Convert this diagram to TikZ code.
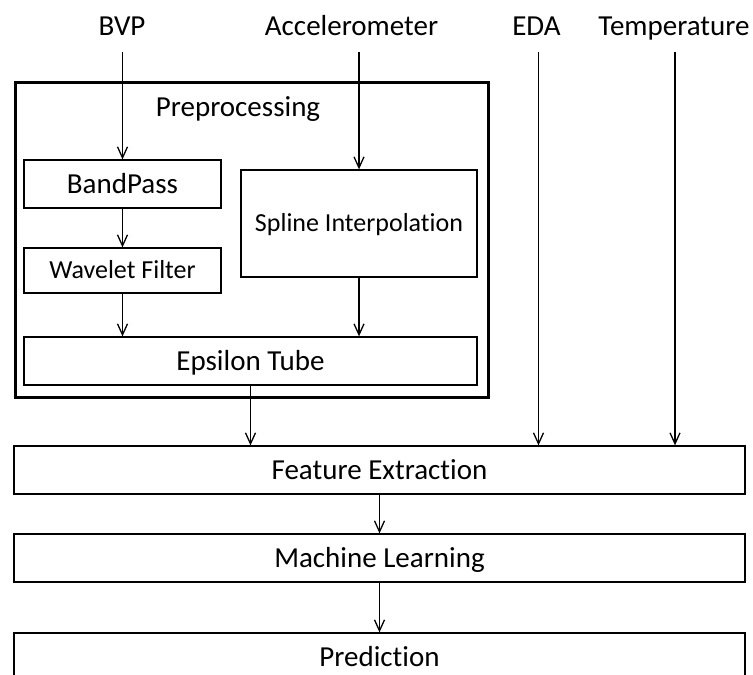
\documentclass[tikz,border=0pt]{standalone}
\usepackage{fontspec}
\setmainfont{Carlito}[Ligatures=NoCommon]
\usetikzlibrary{arrows.meta}
\begin{document}
\begin{tikzpicture}[x=1pt,y=-1pt,
  lbl/.style={font=\fontsize{29}{33}\selectfont, text height=18.7pt, text depth=0pt, inner sep=0pt},
  box/.style={draw, line width=1.3pt, inner sep=0pt, font=\fontsize{29}{33}\selectfont, text height=18.7pt, text depth=0pt},
  smallbox/.style={box, font=\fontsize{26}{30}\selectfont, text height=16.7pt},
  arr/.style={line width=1.3pt, -{Straight Barb[length=11pt,width=10pt,line width=1.3pt]}},
]
\useasboundingbox (0,0) rectangle (753,675);
\clip (0,0) rectangle (753,675);

% inputs
\node[lbl] (bvp) at (122,26.5) {BVP};
\node[lbl] (acc) at (351.5,26.5) {Accelerometer};
\node[lbl] (eda) at (536.5,26.5) {EDA};
\node[lbl] (temp) at (674,26.5) {Temperature};
\coordinate (top) at (0,52);

% preprocessing frame
\node[draw, line width=3pt, inner sep=0pt, minimum width=473.5pt, minimum height=315pt, anchor=north west] (prep) at (13.5,81) {};
\node[lbl] (preplbl) at (238,107.5) {Preprocessing};

\node[box, minimum width=197pt, minimum height=48pt] (band) at (122.5,184) {BandPass};
\node[smallbox, minimum width=197pt, minimum height=45pt] (wave) at (122.5,270.5) {Wavelet Filter};
\node[smallbox, minimum width=236pt, minimum height=107pt] (spline) at (359,223.5) {Spline Interpolation};
\node[box, minimum width=453pt, minimum height=48pt] (eps) at (250.5,361) {Epsilon Tube};

\node[box, minimum width=731pt, minimum height=48pt] (feat) at (379.5,470) {Feature Extraction};
\node[box, minimum width=731pt, minimum height=48pt] (ml) at (379.5,558) {Machine Learning};
\node[box, minimum width=731pt, minimum height=48pt] (pred) at (379.5,657) {Prediction};

% connectors
\draw[arr] (band.north |- top) -- (band.north);
\draw[arr] (spline.north |- top) -- (spline.north);
\draw[arr] (band.south) -- (wave.north);
\draw[arr] (wave.south) -- (wave.south |- eps.north);
\draw[arr] (spline.south) -- (spline.south |- eps.north);
\draw[arr] (eps.south) -- (eps.south |- feat.north);
\draw[arr] ([xshift=2pt]eda.south |- top) -- ([xshift=2pt]eda.south |- feat.north);
\draw[arr] ([xshift=1pt]temp.south |- top) -- ([xshift=1pt]temp.south |- feat.north);
\draw[arr] (feat.south) -- (ml.north);
\draw[arr] (ml.south) -- (pred.north);
\end{tikzpicture}
\end{document}
